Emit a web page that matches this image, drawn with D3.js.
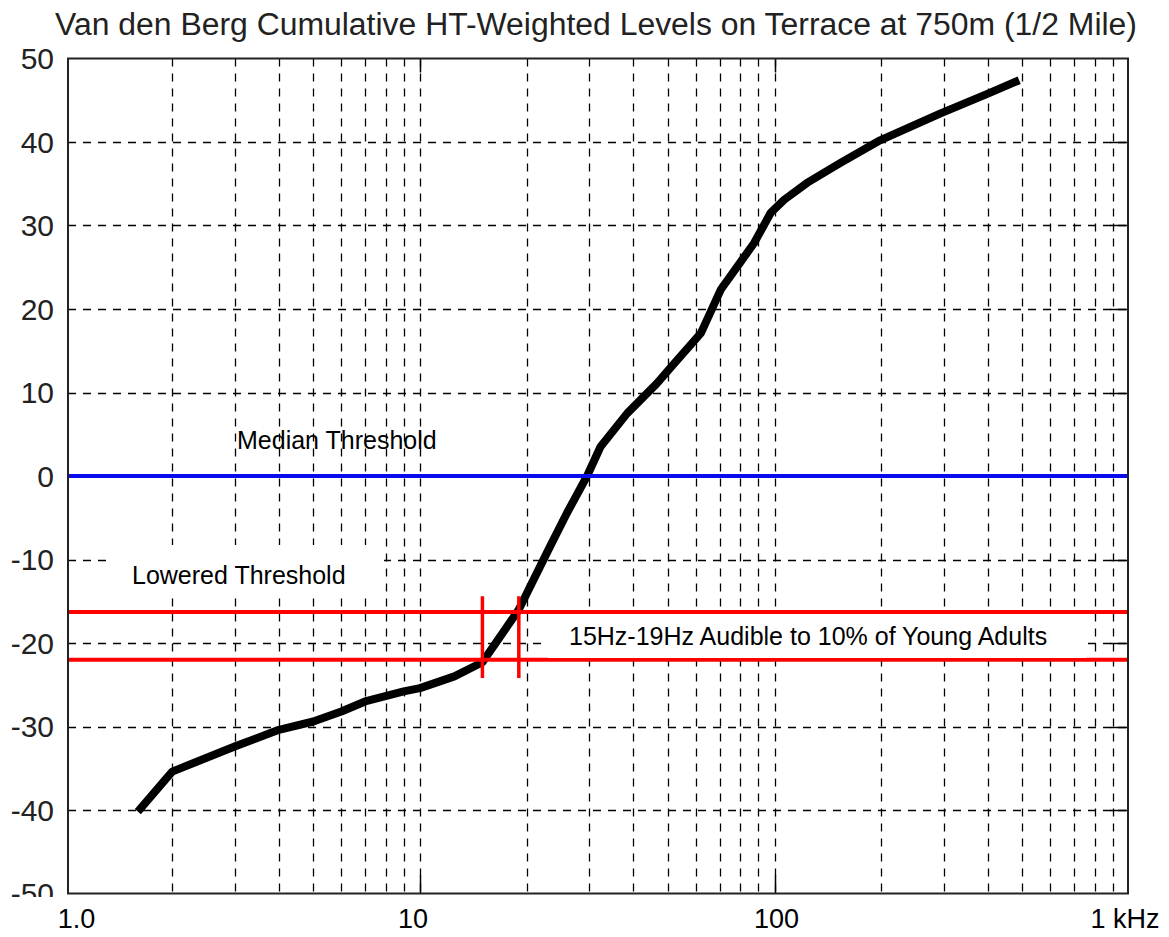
<!DOCTYPE html>
<html>
<head>
<meta charset="utf-8">
<script src="https://cdn.jsdelivr.net/npm/d3@7"></script>
<style>
  body { margin: 0; background: #fff; }
  svg { display: block; }
</style>
</head>
<body>
<svg id="chart" width="1169" height="937"></svg>
<script>
// ---- data ----
const chartTitle = "Van den Berg Cumulative HT-Weighted Levels on Terrace at 750m (1/2 Mile)";

// cumulative HT-weighted level (dB) against frequency (Hz)
const freqHz  = [1.6, 2, 3, 4, 5, 6, 7, 9, 10, 12.5, 15, 19, 23.3, 26, 29.6, 32.3, 38.4, 46.6, 50.7, 62, 70.5, 78.6, 87.6, 97.5, 106.6, 123.5, 153.5, 198.5, 293, 400, 490];
const levelDb = [-40.2, -35.4, -32.4, -30.4, -29.4, -28.2, -27.0, -25.8, -25.4, -24.0, -22.3, -16.0, -8.4, -4.4, 0.0, 3.5, 7.5, 11.1, 12.9, 17.1, 22.3, 25.1, 27.9, 31.5, 33.1, 35.1, 37.5, 40.2, 43.4, 45.8, 47.4];

const yTickValues = [50, 40, 30, 20, 10, 0, -10, -20, -30, -40, -50];
const xTickValues = [1, 10, 100, 1000];
const xTickLabels = ["1.0", "10", "100", "1 kHz"];

const medianThresholdDb = 0;
const loweredThresholdDb = [-16.3, -22.0];   // band limits at 19 Hz and 15 Hz
const bandEdgesHz = [15, 19];
const bandMarkerDb = [-14.4, -24.2];

const medianLabel = "Median Threshold";
const loweredLabel = "Lowered Threshold";
const bandLabel = "15Hz-19Hz Audible to 10% of Young Adults";

// ---- layout ----
const svg = d3.select("#chart");
const frame = { left: 68, right: 1128, top: 58.5, bottom: 893.5 };

const x = d3.scaleLog().domain([1, 1000]).range([65.5, 1129]);
const y = d3.scaleLinear().domain([-50, 50]).range([frame.bottom, frame.top]);

svg.append("rect").attr("width", 1169).attr("height", 937).attr("fill", "#fff");

// title
svg.append("text")
  .attr("x", 55).attr("y", 35)
  .attr("textLength", 1082).attr("lengthAdjust", "spacingAndGlyphs")
  .style("font-family", "'Liberation Sans', Arial, sans-serif")
  .style("font-size", "31px")
  .attr("fill", "#222")
  .text(chartTitle);

// clip for the plotting area
svg.append("clipPath").attr("id", "plotClip")
  .append("rect")
  .attr("x", frame.left).attr("y", frame.top)
  .attr("width", frame.right - frame.left).attr("height", frame.bottom - frame.top);

const plot = svg.append("g").attr("clip-path", "url(#plotClip)");

// grid: vertical lines at every log tick, horizontal at every 10 dB
const gridFreqs = x.ticks().filter(f => f > 1 && f < 1000);
plot.append("g").selectAll("line").data(gridFreqs).join("line")
  .attr("x1", d => Math.round(x(d)) + 0.5).attr("x2", d => Math.round(x(d)) + 0.5)
  .attr("y1", frame.top).attr("y2", frame.bottom)
  .attr("stroke", "#000").attr("stroke-width", 1.3)
  .attr("stroke-dasharray", "8,7");

plot.append("g").selectAll("line").data(yTickValues.filter(v => v > -50 && v < 50)).join("line")
  .attr("x1", frame.left).attr("x2", frame.right)
  .attr("y1", d => Math.round(y(d)) + 0.5).attr("y2", d => Math.round(y(d)) + 0.5)
  .attr("stroke", "#000").attr("stroke-width", 1.3)
  .attr("stroke-dasharray", "8,7");

// solid major ticks on the inside of the frame
const majorInner = xTickValues.filter(v => v > 1 && v < 1000);
plot.append("g").selectAll("line").data(majorInner).join("line")
  .attr("x1", d => Math.round(x(d)) + 0.5).attr("x2", d => Math.round(x(d)) + 0.5)
  .attr("y1", frame.bottom).attr("y2", frame.bottom - 18)
  .attr("stroke", "#000").attr("stroke-width", 1.5);
plot.append("g").selectAll("line").data(majorInner).join("line")
  .attr("x1", d => Math.round(x(d)) + 0.5).attr("x2", d => Math.round(x(d)) + 0.5)
  .attr("y1", frame.top).attr("y2", frame.top + 14)
  .attr("stroke", "#000").attr("stroke-width", 1.5);
plot.append("g").selectAll("line").data(yTickValues.filter(v => v > -50 && v < 50)).join("line")
  .attr("x1", frame.right - 18).attr("x2", frame.right)
  .attr("y1", d => Math.round(y(d)) + 0.5).attr("y2", d => Math.round(y(d)) + 0.5)
  .attr("stroke", "#000").attr("stroke-width", 1.5);

// level curve
const line = d3.line().x((d, i) => x(freqHz[i])).y(d => y(d));
plot.append("path")
  .datum(levelDb)
  .attr("d", line)
  .attr("fill", "none")
  .attr("stroke", "#000")
  .attr("stroke-width", 8)
  .attr("stroke-linejoin", "round")
  .attr("stroke-linecap", "butt");

// median threshold
plot.append("line")
  .attr("x1", frame.left).attr("x2", frame.right)
  .attr("y1", y(medianThresholdDb)).attr("y2", y(medianThresholdDb))
  .attr("stroke", "#0a0aee").attr("stroke-width", 4);

// lowered threshold band
plot.append("g").selectAll("line").data(loweredThresholdDb).join("line")
  .attr("x1", frame.left).attr("x2", frame.right)
  .attr("y1", d => y(d)).attr("y2", d => y(d))
  .attr("stroke", "#ff0000").attr("stroke-width", 4);

plot.append("g").selectAll("line").data(bandEdgesHz).join("line")
  .attr("x1", d => x(d)).attr("x2", d => x(d))
  .attr("y1", y(bandMarkerDb[0])).attr("y2", y(bandMarkerDb[1]))
  .attr("stroke", "#ff0000").attr("stroke-width", 3.5);

// annotation boxes and labels
const labelFont = "'Liberation Sans', Arial, Helvetica, sans-serif";

svg.append("rect").attr("x", 112).attr("y", 545).attr("width", 272).attr("height", 52).attr("fill", "#fff");
svg.append("rect").attr("x", 548).attr("y", 614).attr("width", 538).attr("height", 44).attr("fill", "#fff");

svg.append("text").attr("x", 237).attr("y", 449)
  .style("font-family", labelFont).style("font-size", "25px").attr("fill", "#000")
  .text(medianLabel);
svg.append("text").attr("x", 132).attr("y", 584)
  .style("font-family", labelFont).style("font-size", "25px").attr("fill", "#000")
  .text(loweredLabel);
svg.append("text").attr("x", 569).attr("y", 645)
  .style("font-family", labelFont).style("font-size", "25px").attr("fill", "#000")
  .text(bandLabel);

// frame
svg.append("rect")
  .attr("x", frame.left).attr("y", frame.top)
  .attr("width", frame.right - frame.left).attr("height", frame.bottom - frame.top)
  .attr("fill", "none").attr("stroke", "#222").attr("stroke-width", 2);

// y tick labels (bottom one is cut by the axis strip)
svg.append("clipPath").attr("id", "yLabelClip")
  .append("rect").attr("x", 0).attr("y", 0).attr("width", 66).attr("height", 897);
svg.append("g").attr("clip-path", "url(#yLabelClip)")
  .selectAll("text").data(yTickValues).join("text")
  .attr("x", 54).attr("y", d => y(d))
  .attr("dy", "0.36em")
  .attr("text-anchor", "end")
  .style("font-family", labelFont).style("font-size", "30px")
  .attr("fill", "#222")
  .text(d => d);

// x tick labels
const xLabelShift = [11, -7, 2, -4];
svg.append("g").selectAll("text").data(xTickValues).join("text")
  .attr("x", (d, i) => x(d) + xLabelShift[i]).attr("y", 928)
  .attr("text-anchor", "middle")
  .style("font-family", labelFont).style("font-size", "27px")
  .attr("fill", "#000")
  .text((d, i) => xTickLabels[i]);
</script>
</body>
</html>
